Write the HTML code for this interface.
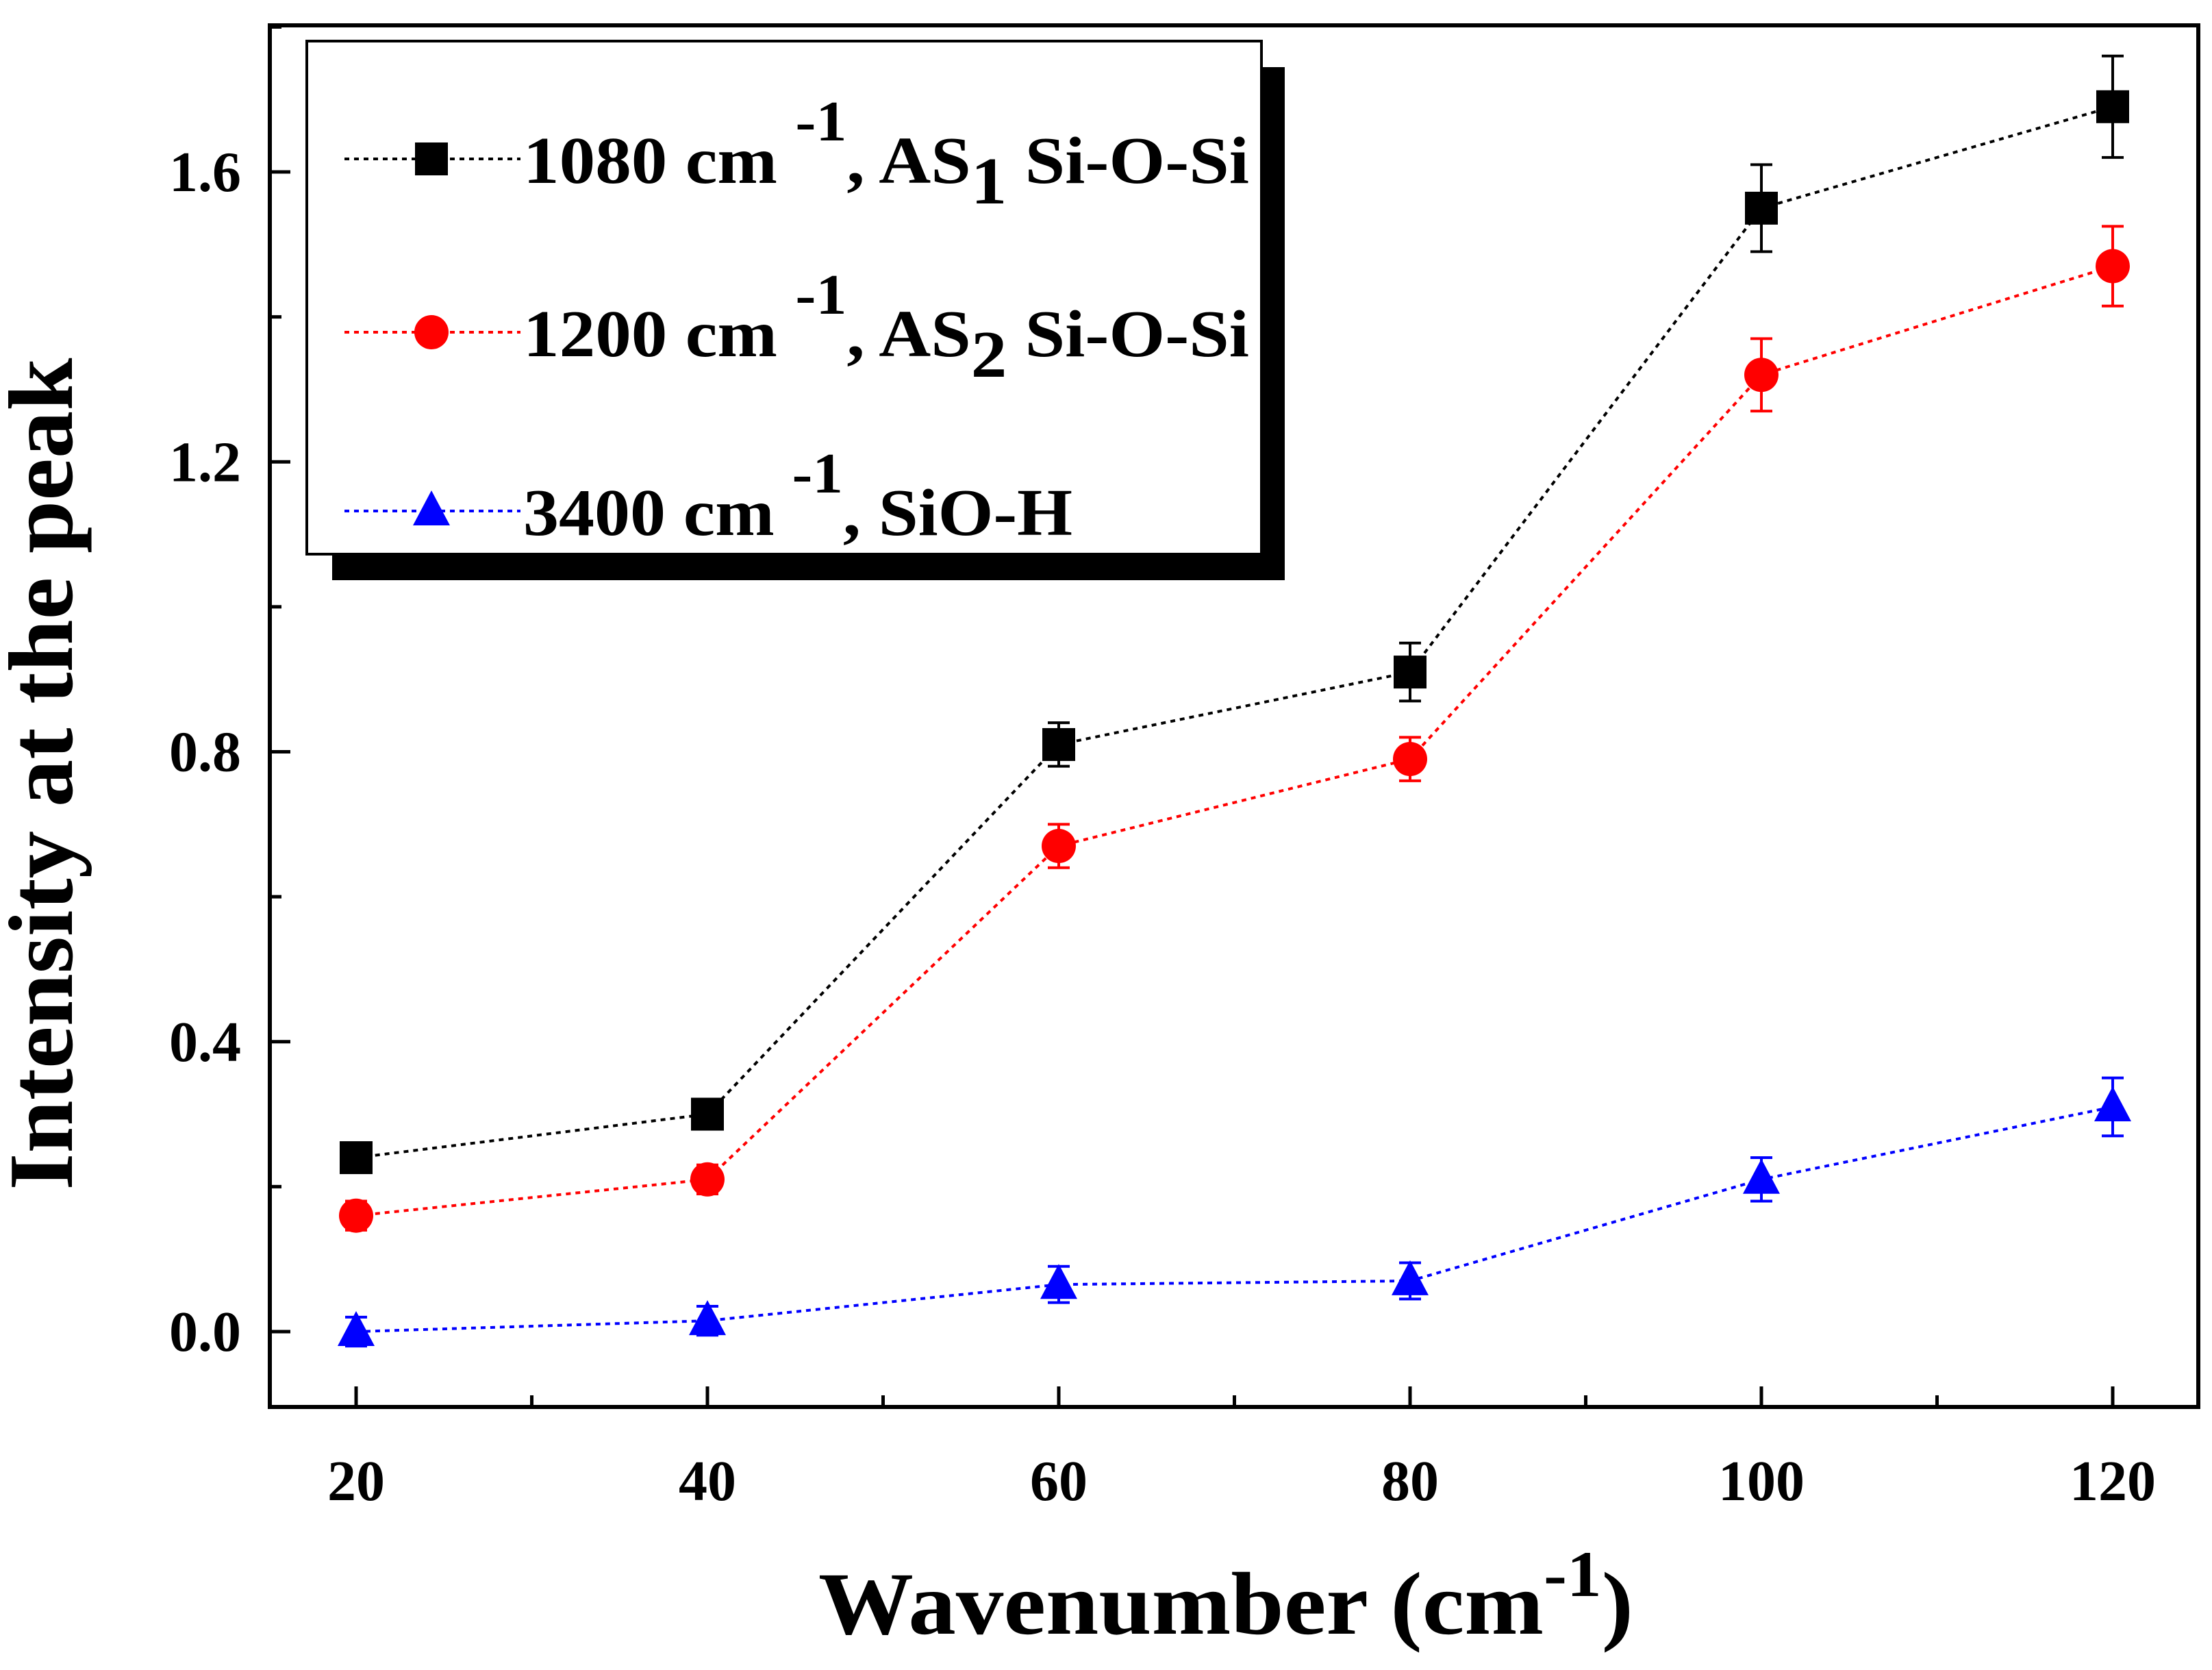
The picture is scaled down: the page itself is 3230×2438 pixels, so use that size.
<!DOCTYPE html>
<html><head><meta charset="utf-8"><style>
html,body{margin:0;padding:0;background:#fff;}
svg{display:block;font-family:"Liberation Serif",serif;font-weight:bold;}
</style></head><body>
<svg id="chart" width="3230" height="2438" viewBox="0 0 3230 2438" xmlns="http://www.w3.org/2000/svg">
<g id="marks"></g>
<rect x="394" y="37" width="2816" height="2017" fill="none" stroke="#000" stroke-width="6"/>
<g id="axes"></g>
<text x="1790" y="2385" font-size="130" text-anchor="middle" textLength="1190" lengthAdjust="spacingAndGlyphs">Wavenumber (cm<tspan dy="-55" font-size="95">-1</tspan><tspan dy="55">)</tspan></text>
<text transform="translate(105,1130) rotate(-90)" font-size="134" text-anchor="middle" textLength="1215" lengthAdjust="spacingAndGlyphs">Intensity at the peak</text>
<g>
<rect x="485" y="98" width="1391" height="749" fill="#000"/>
<rect x="448" y="60" width="1394" height="749" fill="#fff" stroke="#000" stroke-width="4"/>
<g id="legend-items"></g>
</g>
</svg>
<script>
const categories = [20, 40, 60, 80, 100, 120];
const series1080 = [0.24, 0.30, 0.81, 0.91, 1.55, 1.69];
const err1080 = [0.02, 0.02, 0.03, 0.04, 0.06, 0.07];
const series1200 = [0.16, 0.21, 0.67, 0.79, 1.32, 1.47];
const err1200 = [0.02, 0.02, 0.03, 0.03, 0.05, 0.055];
const series3400 = [0.0, 0.015, 0.065, 0.07, 0.21, 0.31];
const err3400 = [0.02, 0.02, 0.025, 0.025, 0.03, 0.04];
const xTickLabels = ["20", "40", "60", "80", "100", "120"];
const yTickLabels = ["0.0", "0.4", "0.8", "1.2", "1.6"];

const NS = "http://www.w3.org/2000/svg";
function xs(v){ return 520 + (v - 20) * (3085 - 520) / 100; }
function ys(v){ return 1944 - v * (1944 - 251) / 1.6; }
function mk(tag, attrs, parent){
  const e = document.createElementNS(NS, tag);
  for (const k in attrs) e.setAttribute(k, attrs[k]);
  parent.appendChild(e); return e;
}
const marks = document.getElementById('marks');
const axes = document.getElementById('axes');

for (let v = 20; v <= 120; v += 10) {
  const major = (v % 20 === 0);
  const t = mk('line', {x1: xs(v), x2: xs(v), y1: 2054, y2: 2054 - (major ? 30 : 17), stroke: '#000', 'stroke-width': 5}, axes);
  
  
}
xTickLabels.forEach((lab, i) => {
  const t = mk('text', {x: xs(categories[i]), y: 2190, 'font-size': 84, 'text-anchor': 'middle'}, axes);
  t.textContent = lab;
  
  
});
for (let k = 0; k <= 1.81; k += 0.2) {
  const v = Math.round(k * 10) / 10;
  const major = Math.abs(v / 0.4 - Math.round(v / 0.4)) < 1e-6;
  const t = mk('line', {x1: 394, x2: 394 + (major ? 30 : 17), y1: ys(v), y2: ys(v), stroke: '#000', 'stroke-width': 5}, axes);
  
  
}
yTickLabels.forEach(lab => {
  const v = parseFloat(lab);
  const t = mk('text', {x: 352, y: ys(v) + 28, 'font-size': 84, 'text-anchor': 'end'}, axes);
  t.textContent = lab;
  
  
});

function marker(shape, cx, cy, color, parent){
  let e;
  if (shape === 'square') e = mk('rect', {x: cx - 24, y: cy - 24, width: 48, height: 48, fill: color}, parent);
  else if (shape === 'circle') e = mk('circle', {cx: cx, cy: cy, r: 25, fill: color}, parent);
  else e = mk('polygon', {points: `${cx},${cy-30} ${cx-27},${cy+21} ${cx+27},${cy+21}`, fill: color}, parent);
  return e;
}
const seriesDefs = [
  {name: 'series-1080', vals: series1080, errs: err1080, color: '#000', shape: 'square'},
  {name: 'series-1200', vals: series1200, errs: err1200, color: '#f00', shape: 'circle'},
  {name: 'series-3400', vals: series3400, errs: err3400, color: '#00f', shape: 'triangle'}
];
seriesDefs.forEach(s => {
  const g = mk('g', {}, marks);
  
  
  const pts = categories.map((c, i) => xs(c) + ',' + ys(s.vals[i])).join(' ');
  const line = mk('polyline', {points: pts, fill: 'none', stroke: s.color, 'stroke-width': 4, 'stroke-dasharray': '7,7'}, g);
  
  
  categories.forEach((c, i) => {
    const x = xs(c), y1 = ys(s.vals[i] + s.errs[i]), y2 = ys(s.vals[i] - s.errs[i]);
    const eb = mk('path', {d: `M${x},${y1}V${y2}M${x-16},${y1}H${x+16}M${x-16},${y2}H${x+16}`, stroke: s.color, 'stroke-width': 4, fill: 'none'}, g);
    
    
    const m = marker(s.shape, x, ys(s.vals[i]), s.color, g);
    
    
  });
});

const leg = document.getElementById('legend-items');
const legendRows = [
  {y: 232, color: '#000', shape: 'square', main: '1080 cm', sub: '1', len: 1060},
  {y: 485, color: '#f00', shape: 'circle', main: '1200 cm', sub: '2', len: 1060},
  {y: 746, color: '#00f', shape: 'triangle', main: '3400 cm', sub: null, len: 802}
];
legendRows.forEach(r => {
  const g = mk('g', {}, leg);
  
  
  mk('line', {x1: 503, x2: 760, y1: r.y, y2: r.y, stroke: r.color, 'stroke-width': 4, 'stroke-dasharray': '7,7'}, g);
  marker(r.shape, 630, r.y, r.color, g);
  const t = mk('text', {x: 764, y: r.y + 35, 'font-size': 98, textLength: r.len, lengthAdjust: 'spacingAndGlyphs'}, g);
  
  
  let html = r.main + ' <tspan dy="-62" font-size="84">-1</tspan><tspan dy="62">, </tspan>';
  if (r.sub) html += 'AS<tspan dy="30" font-size="98">' + r.sub + '</tspan><tspan dy="-30"> Si-O-Si</tspan>';
  else html += 'SiO-H';
  t.innerHTML = html;
});
</script>
</body></html>
